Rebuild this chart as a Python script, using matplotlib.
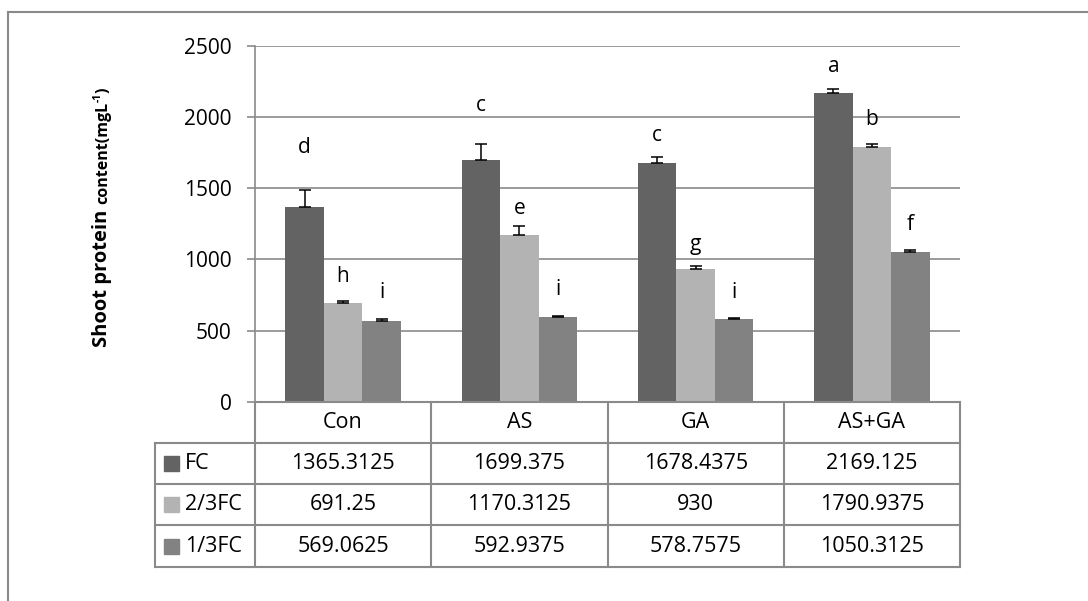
import matplotlib
matplotlib.use('Agg')
import matplotlib.pyplot as plt
from matplotlib.patches import Rectangle
from matplotlib.lines import Line2D

plt.rcParams['font.family'] = ['Open Sans', 'DejaVu Sans']

treatments = ['Con', 'AS', 'GA', 'AS+GA']
series = ['FC', '2/3FC', '1/3FC']
fc = [1365.3125, 1699.375, 1678.4375, 2169.125]
fc_23 = [691.25, 1170.3125, 930, 1790.9375]
fc_13 = [569.0625, 592.9375, 578.7575, 1050.3125]
fc_err = [120, 110, 43, 26]
fc_23_err = [14, 62, 21, 19]
fc_13_err = [15, 10, 8, 13]
fc_letters = ['d', 'c', 'c', 'a']
fc_23_letters = ['h', 'e', 'g', 'b']
fc_13_letters = ['i', 'i', 'i', 'f']

values = [fc, fc_23, fc_13]
errors = [fc_err, fc_23_err, fc_13_err]
letters = [fc_letters, fc_23_letters, fc_13_letters]
colors = ['#636363', '#b3b3b3', '#828282']
# where the significance letters sit (data units)
letter_y = [[1785, 2084, 1871, 2357],
            [880, 1357, 1103, 1983],
            [765, 786, 765, 1244]]

W, H = 1088, 601
grey = '#8a8a8a'
fig = plt.figure(figsize=(W / 100, H / 100), dpi=100)

# plot area in pixels
left, right, top, bottom = 255, 960, 46, 401.7
ax = fig.add_axes([left / W, 1 - bottom / H, (right - left) / W, (bottom - top) / H])
cat_px = (right - left) / len(treatments)
bw = 38.5 / cat_px
x = list(range(len(treatments)))

for k in range(3):
    xs = [xi + (k - 1) * bw for xi in x]
    ax.bar(xs, values[k], width=bw, color=colors[k], zorder=3)
    ax.errorbar(xs, values[k], yerr=[[0] * 4, errors[k]], fmt='none',
                ecolor='black', elinewidth=1.1, capsize=4, capthick=1.1, zorder=4)
    for xi, ly, t in zip(xs, letter_y[k], letters[k]):
        ax.text(xi, ly, t, ha='center', va='center', fontsize=15, zorder=5)

ax.set_xlim(-0.5, 3.5)
ax.set_ylim(0, 2500)
ax.set_yticks(range(0, 2501, 500))
ax.yaxis.grid(True, color=grey, linewidth=1.2, zorder=0)
ax.set_xticks([])
for s in ['top', 'right', 'bottom']:
    ax.spines[s].set_visible(False)
ax.spines['left'].set_color(grey)
ax.spines['left'].set_linewidth(1.2)
ax.tick_params(axis='y', direction='out', length=6, width=1.2, color=grey,
               labelsize=15, pad=11)

# y-axis title built from pieces with different sizes
renderer = fig.canvas.get_renderer()
pieces = [("Shoot protein ", 14.5, 0), ("content(mgL", 11.5, 0), ("-1", 7.5, -6), (")", 11.5, 0)]
lx, ly0 = 107, 347
y_cur = ly0
for txt, size, dx in pieces:
    t = fig.text((lx + dx) / W, 1 - y_cur / H, txt, rotation=90, rotation_mode='anchor',
                 ha='left', va='baseline', fontsize=size, fontweight='bold')
    ext = t.get_window_extent(renderer)
    y_cur -= ext.height

# data table below the axes
tleft, tbottom = 155, 566.7
tax = fig.add_axes([tleft / W, 1 - tbottom / H, (right - tleft) / W, (tbottom - bottom) / H])
xmin = -0.5 - (left - tleft) / cat_px
tax.set_xlim(xmin, 3.5)
tax.set_ylim(4, 0)
tax.axis('off')
row_px = (tbottom - bottom) / 4
lk = dict(color=grey, linewidth=1.5, clip_on=False)
tax.add_line(Line2D([-0.5, 3.5], [0, 0], **lk))
for r in range(1, 5):
    tax.add_line(Line2D([xmin, 3.5], [r, r], **lk))
for c in range(5):
    tax.add_line(Line2D([c - 0.5, c - 0.5], [0, 4], **lk))
tax.add_line(Line2D([xmin, xmin], [1, 4], **lk))

for i, name in enumerate(treatments):
    tax.text(i, 0.5, name, ha='center', va='center', fontsize=15.5)
for k in range(3):
    r = k + 1
    for i, v in enumerate(values[k]):
        tax.text(i, r + 0.5, str(v), ha='center', va='center', fontsize=15.5)
    tax.add_patch(Rectangle((xmin + 9 / cat_px, r + 0.5 - 7.5 / row_px), 15 / cat_px,
                            15 / row_px, color=colors[k], clip_on=False))
    tax.text(xmin + 30 / cat_px, r + 0.5, series[k], ha='left', va='center', fontsize=15.5)

# chart area border (runs off the right and bottom edges)
fig.add_artist(Line2D([8.3 / W, 8.3 / W], [1 - 11.7 / H, 0], color=grey, linewidth=1.5))
fig.add_artist(Line2D([8.3 / W, 1], [1 - 11.7 / H, 1 - 11.7 / H], color=grey, linewidth=1.5))

fig.savefig('out.png', dpi=100)
